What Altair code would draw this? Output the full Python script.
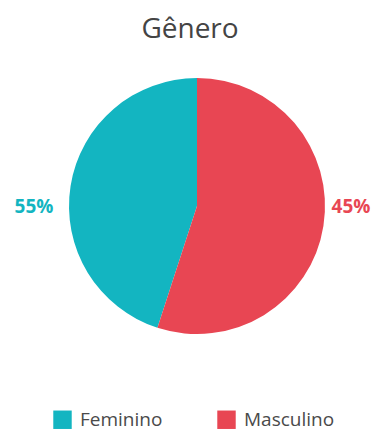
import altair as alt
import pandas as pd

# data
genders = ["Feminino", "Masculino"]
slice_share = [45, 55]          # share of the circle each slice covers
pct_labels = ["55%", "45%"]     # labels printed beside the pie
label_side = [0, 1]             # left / right of the pie
draw_order = [2, 1]             # Masculino starts at 12 o'clock
colors = ["#13B5C1", "#E84653"]
title_text = "Gênero"

df = pd.DataFrame({
    "gender": genders,
    "share": slice_share,
    "label": pct_labels,
    "side": label_side,
    "ord": draw_order,
})

W, H = 364, 424
CX, CY = 189, 198
R = 128

color_scale = alt.Scale(domain=genders, range=colors)

base = alt.Chart(df)

pie = base.mark_arc(outerRadius=R).encode(
    theta=alt.Theta("share:Q", stack=True),
    order=alt.Order("ord:Q"),
    color=alt.Color(
        "gender:N",
        scale=color_scale,
        legend=alt.Legend(
            title=None,
            orient="none",
            legendX=45,
            legendY=402,
            direction="horizontal",
            symbolType="square",
            symbolSize=340,
            symbolStrokeWidth=0,
            symbolOpacity=1,
            labelFontSize=19,
            labelFont="Open Sans",
            labelColor="#4a4a4a",
            labelOffset=8,
            columnPadding=54,
            padding=0,
        ),
    ),
    x=alt.value(CX),
    y=alt.value(CY),
)

labels = base.mark_text(
    font="Open Sans", fontSize=19, fontWeight="bold", baseline="middle", align="center"
).encode(
    x=alt.X("side:Q", scale=alt.Scale(domain=[0, 1], range=[26, 343]), axis=None),
    y=alt.value(CY + 1),
    text="label:N",
    color=alt.Color("gender:N", scale=color_scale, legend=None),
)

title = alt.Chart(pd.DataFrame({"t": [title_text]})).mark_text(
    font="Open Sans", fontSize=28, color="#444444", baseline="alphabetic", align="center"
).encode(
    x=alt.value(W / 2),
    y=alt.value(30),
    text="t:N",
)

chart = alt.layer(pie, labels, title).properties(
    width=W,
    height=H,
    autosize=alt.AutoSizeParams(type="none"),
    padding=0,
).configure_view(stroke=None)

chart.save("out.html", embed_options={"renderer": "svg", "actions": False})
